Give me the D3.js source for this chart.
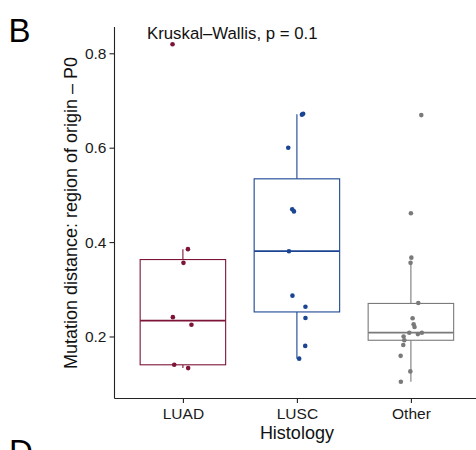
<!DOCTYPE html>
<html>
<head>
<meta charset="utf-8">
<script src="https://cdn.jsdelivr.net/npm/d3@7"></script>
<style>
  html, body { margin: 0; padding: 0; background: #fff; }
  svg { display: block; font-family: "Liberation Sans", Arial, Helvetica, sans-serif; }
</style>
</head>
<body>
<script>
// Histology groups and their colours
const categories = ["LUAD", "LUSC", "Other"];
const colors = ["#7d1436", "#1b4593", "#7a7a7a"];

// Box summaries: lower whisker, Q1, median, Q3, upper whisker
const whiskerLow  = [0.133, 0.153, 0.104];
const q1          = [0.140, 0.252, 0.192];
const medians     = [0.2335, 0.381, 0.208];
const q3          = [0.363, 0.534, 0.270];
const whiskerHigh = [0.385, 0.671, 0.357];

// Per-sample mutation distances (region of origin – P0)
const luadValues  = [0.819, 0.385, 0.356, 0.241, 0.225, 0.140, 0.133];
const luscValues  = [0.672, 0.670, 0.600, 0.4695, 0.465, 0.3805, 0.2865, 0.263, 0.239, 0.180, 0.153];
const otherValues = [0.669, 0.461, 0.367, 0.356, 0.271, 0.2385, 0.226, 0.220, 0.208, 0.205, 0.208, 0.200, 0.192, 0.182, 0.159, 0.126, 0.104];

// Horizontal jitter of each point, as a fraction of the category spacing
const luadJitter  = [-0.091, 0.044, 0.005, -0.088, 0.075, -0.076, 0.046];
const luscJitter  = [0.055, 0.044, -0.076, -0.041, -0.026, -0.070, -0.039, 0.075, 0.075, 0.073, 0.020];
const otherJitter = [0.091, 0.000, 0.004, -0.003, 0.065, 0.015, 0.024, 0.032, -0.014, 0.061, 0.096, -0.064, -0.058, -0.067, -0.090, -0.005, -0.088];

const yTicks = [0.2, 0.4, 0.6, 0.8];
const yTickLabels = ["0.2", "0.4", "0.6", "0.8"];

const pointValues = [luadValues, luscValues, otherValues];
const pointJitter = [luadJitter, luscJitter, otherJitter];

const W = 476, H = 450;
const svg = d3.select("body").append("svg").attr("width", W).attr("height", H);

const panel = { left: 114.5, right: 479.3, top: 27, bottom: 398.5 };

const x = d3.scalePoint().domain(categories).range([panel.left, panel.right]).padding(0.6);
const step = x.step();
const boxW = step * 0.75;

const y = d3.scaleLinear().domain([0.0686, 0.8557]).range([panel.bottom, panel.top]);

// Boxes
const g = svg.append("g");
categories.forEach((c, i) => {
  const cx = x(c);
  const col = colors[i];
  const grp = g.append("g");
  // whiskers
  grp.append("line").attr("x1", cx).attr("x2", cx)
    .attr("y1", y(q3[i])).attr("y2", y(whiskerHigh[i]))
    .attr("stroke", col).attr("stroke-width", 1.1);
  grp.append("line").attr("x1", cx).attr("x2", cx)
    .attr("y1", y(q1[i])).attr("y2", y(whiskerLow[i]))
    .attr("stroke", col).attr("stroke-width", 1.1);
  // box
  grp.append("rect")
    .attr("x", cx - boxW / 2).attr("width", boxW)
    .attr("y", y(q3[i])).attr("height", y(q1[i]) - y(q3[i]))
    .attr("fill", "#fff").attr("stroke", col).attr("stroke-width", 1.1);
  // median
  grp.append("line")
    .attr("x1", cx - boxW / 2).attr("x2", cx + boxW / 2)
    .attr("y1", y(medians[i])).attr("y2", y(medians[i]))
    .attr("stroke", col).attr("stroke-width", 1.8);
});

// Jittered points
categories.forEach((c, i) => {
  const pts = pointValues[i].map((v, k) => ({ v, j: pointJitter[i][k] }));
  g.append("g").selectAll("circle").data(pts).join("circle")
    .attr("cx", d => x(c) + d.j * step)
    .attr("cy", d => y(d.v))
    .attr("r", 2.3)
    .attr("fill", colors[i]);
});

// Axes
const axisColor = "#222";
const yAxis = svg.append("g").attr("transform", `translate(${panel.left},0)`)
  .call(d3.axisLeft(y).tickValues(yTicks).tickFormat((d, i) => yTickLabels[i]).tickSize(5).tickPadding(3));
yAxis.select(".domain").attr("d", `M0,${panel.top}V${panel.bottom}`);

const xAxis = svg.append("g").attr("transform", `translate(0,${panel.bottom})`)
  .call(d3.axisBottom(x).tickSize(4.5).tickPadding(5));
xAxis.select(".domain").attr("d", `M${panel.left},0H${panel.right}`);

[yAxis, xAxis].forEach(a => {
  a.selectAll(".domain").attr("stroke", axisColor).attr("stroke-width", 1.1);
  a.selectAll(".tick line").attr("stroke", axisColor).attr("stroke-width", 1.1);
  a.selectAll(".tick text").attr("fill", "#1a1a1a").style("font-size", "15.5px")
    .style("font-family", "'Liberation Sans', Arial, sans-serif");
});

// Axis titles
svg.append("text")
  .attr("x", (panel.left + panel.right) / 2).attr("y", 438.5)
  .attr("text-anchor", "middle").style("font-size", "18px").attr("fill", "#111")
  .text("Histology");

svg.append("text")
  .attr("transform", `translate(76.5,213) rotate(-90)`)
  .attr("text-anchor", "middle").style("font-size", "18px").attr("fill", "#111")
  .text("Mutation distance: region of origin – P0");

// Test annotation
svg.append("text")
  .attr("x", 147).attr("y", 39)
  .style("font-size", "16.8px").attr("fill", "#111")
  .text("Kruskal–Wallis, p = 0.1");

// Panel letters (the lower one belongs to the next panel and runs off the bottom)
svg.append("text").attr("x", 8.5).attr("y", 41.7)
  .style("font-size", "33px").attr("fill", "#000").text("B");
svg.append("text").attr("x", 9).attr("y", 463)
  .style("font-size", "33px").attr("fill", "#000").text("D");
</script>
</body>
</html>
